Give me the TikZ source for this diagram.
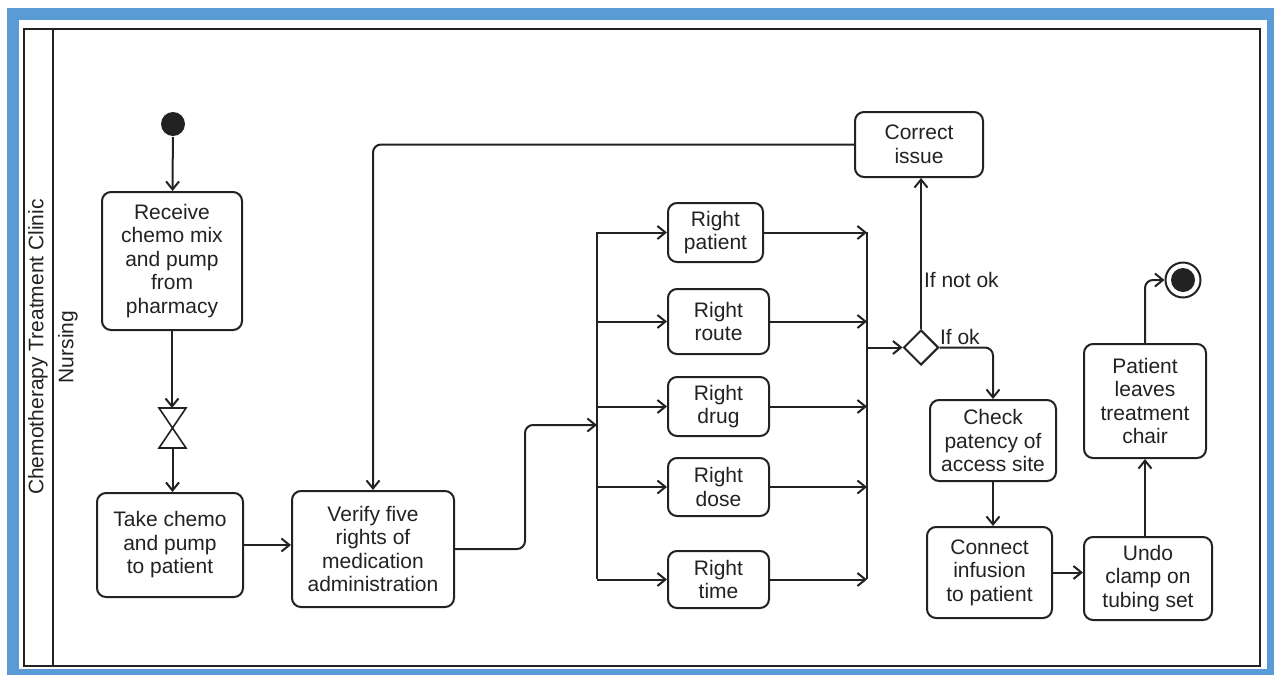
\documentclass[tikz,border=0pt]{standalone}
\usepackage{fontspec}
\setmainfont{Liberation Sans}
\usetikzlibrary{arrows.meta,shapes.geometric}
\definecolor{frameblue}{RGB}{91,155,213}
\definecolor{ink}{RGB}{34,34,34}
\begin{document}
\begin{tikzpicture}[x=0.5pt,y=-0.5pt,
  line width=1pt,
  >={Straight Barb[length=4pt,width=6.5pt]},
  txt/.style={font=\fontsize{10.5}{11.75}\selectfont, text=ink},
  act/.style={txt, draw=ink, rounded corners=4.5pt, align=center, inner sep=0pt},
  flow/.style={draw=ink, ->, rounded corners=4pt},
  bar/.style={draw=ink},
  lbl/.style={txt, inner sep=0pt}
]
\useasboundingbox (0,0) rectangle (1274,675);
% page and blue frame
\fill[white] (0,0) rectangle (1274,675);
\fill[frameblue] (7,8) rectangle (1274,675);
\fill[white] (19,20) rectangle (1267,669);

% pool and lane
\draw[ink] (24,29) rectangle (1260,666);
\draw[ink] (53,29) -- (53,666);
\node[lbl, rotate=90] (pool) at (38,347) {Chemotherapy Treatment Clinic};
\node[lbl, rotate=90] (lane) at (68,347) {Nursing};

% start, transfer, actions
\node[circle, fill=ink, minimum size=12pt, inner sep=0pt] (init) at (173,124) {};
\node[act, minimum width=70pt, minimum height=69pt] (recv) at (172,261)
  {Receive\\chemo mix\\and pump\\from\\pharmacy};
\node[minimum width=12.5pt, minimum height=19pt, inner sep=0pt] (hg) at (172.5,428) {};
\draw[ink, line width=0.8pt] (hg.north west) -- (hg.north east) -- (hg.center) -- cycle;
\draw[ink, line width=0.8pt] (hg.center) -- (hg.south west) -- (hg.south east) -- cycle;
\node[act, minimum width=73pt, minimum height=52pt] (take) at (170,545)
  {Take chemo\\and pump\\to patient};
\node[act, minimum width=81pt, minimum height=58pt] (verify) at (373,549)
  {Verify five\\rights of\\medication\\administration};

% the five rights
\node[act, minimum width=47.5pt, minimum height=29.5pt] (rpat) at (715.5,232.5) {Right\\patient};
\node[act, minimum width=50.5pt, minimum height=32.5pt] (rroute) at (718.5,321.5) {Right\\route};
\node[act, minimum width=50.5pt, minimum height=29.5pt] (rdrug) at (718.5,406.5) {Right\\drug};
\node[act, minimum width=50.5pt, minimum height=29pt] (rdose) at (718.5,487) {Right\\dose};
\node[act, minimum width=50.5pt, minimum height=28.5pt] (rtime) at (718.5,579.5) {Right\\time};

% fork and join bars
\coordinate (forktop) at (597,232);
\coordinate (forkbot) at (597,579);
\coordinate (forkin) at (597,425);
\coordinate (jointop) at (867,232);
\coordinate (joinbot) at (867,579);
\coordinate (joinout) at (867,347.5);
\draw[bar] (forktop) -- (forkbot);
\draw[bar] (jointop) -- (joinbot);

% decision and the rest
\node[diamond, draw=ink, minimum width=17.5pt, minimum height=17.5pt, inner sep=0pt] (dec) at (921,347.5) {};
\node[act, minimum width=64pt, minimum height=32.5pt] (correct) at (919,144.5) {Correct\\issue};
\node[act, minimum width=63pt, minimum height=40.5pt] (check) at (993,440.5) {Check\\patency of\\access site};
\node[act, minimum width=62.5pt, minimum height=45.5pt] (connect) at (989.5,572.5) {Connect\\infusion\\to patient};
\node[act, minimum width=64pt, minimum height=41.5pt] (undo) at (1148,578.5) {Undo\\clamp on\\tubing set};
\node[act, minimum width=61pt, minimum height=57pt] (leave) at (1145,401) {Patient\\leaves\\treatment\\chair};
\node[circle, draw=ink, minimum size=17.5pt, inner sep=0pt] (final) at (1183,280) {};
\fill[ink] (final.center) circle[radius=6pt];

% guard labels
\node[lbl, anchor=west] (ifnot) at (923,280) {If not ok};
\node[lbl, anchor=west] (ifok) at (939,337) {If ok};

% flows
\draw[flow] (init) -- (recv);
\draw[flow] (recv.south) -- (recv.south |- hg.north);
\draw[flow] (hg.south) -- (hg.south |- take.north);
\draw[flow] (take.east) -- (take.east -| verify.west);
\draw[flow] (verify.east) -- (525,549) -- (525,425) -- (forkin);
\foreach \b in {rpat,rroute,rdrug,rdose,rtime}{
  \draw[flow] (\b.west -| forktop) -- (\b.west);
  \draw[flow] (\b.east) -- (\b.east -| jointop);
}
\draw[flow] (joinout) -- (dec.west);
\draw[flow] (dec.north) -- (dec.north |- correct.south);
\draw[flow] (correct.west) -- (verify.north |- correct.west) -- (verify.north);
\draw[flow] (dec.east) -- (check.north |- dec.east) -- (check.north);
\draw[flow] (check.south) -- (check.south |- connect.north);
\draw[flow] (connect.east) -- (connect.east -| undo.west);
\draw[flow] (leave.south |- undo.north) -- (leave.south);
\draw[flow] (leave.north) -- (leave.north |- final.west) -- (final.west);
\end{tikzpicture}
\end{document}
